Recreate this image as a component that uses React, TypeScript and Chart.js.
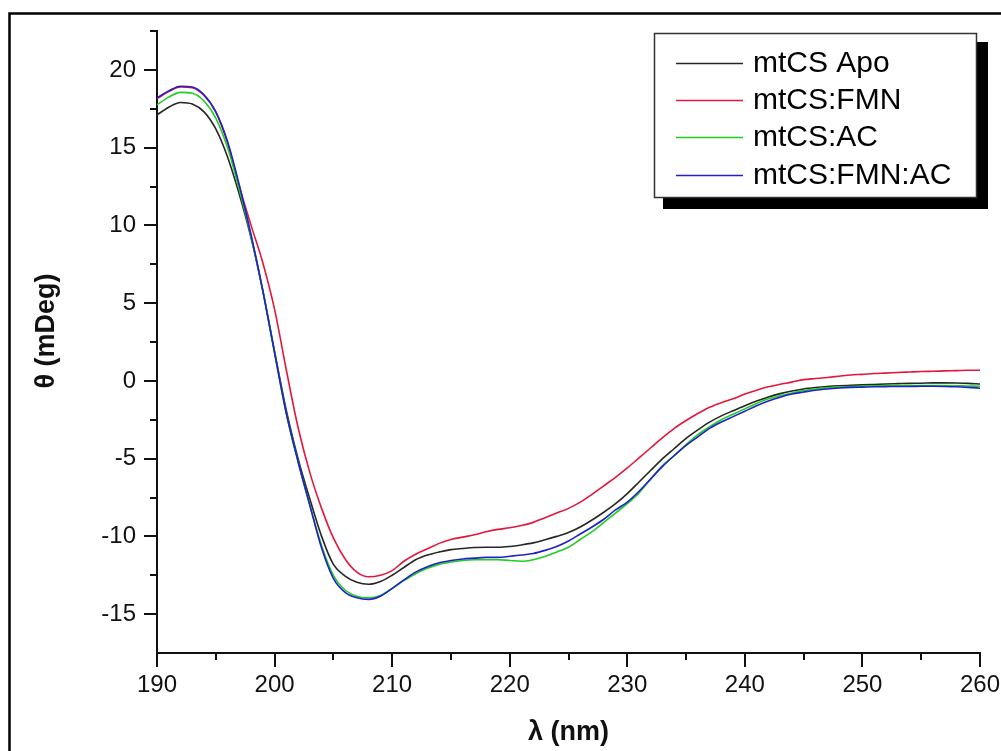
import React, { useEffect, useRef } from "react";
import { Chart, registerables } from "chart.js";

Chart.register(...registerables);

// ---------- data ----------
const wavelengths = [
  190, 191, 192, 193, 194, 195, 196, 197, 198, 199,
  200, 201, 202, 203, 204, 205, 206, 207, 208, 209,
  210, 211, 212, 213, 214, 215, 216, 217, 218, 219,
  220, 221, 222, 223, 224, 225, 226, 227, 228, 229,
  230, 231, 232, 233, 234, 235, 236, 237, 238, 239,
  240, 241, 242, 243, 244, 245, 246, 247, 248, 249,
  250, 251, 252, 253, 254, 255, 256, 257, 258, 259,
  260,
];

const apo = [
  17.1, 17.6, 17.9, 17.8, 17.3, 16.2, 14.4, 12.0, 9.2, 5.8,
  1.9, -1.9, -5.0, -7.6, -10.0, -11.8, -12.55, -12.95, -13.08, -12.9,
  -12.5, -12.0, -11.5, -11.2, -11.0, -10.85, -10.78, -10.72, -10.7, -10.7,
  -10.65, -10.55, -10.42, -10.22, -10.0, -9.75, -9.4, -8.95, -8.45, -7.9,
  -7.25, -6.5, -5.75, -5.0, -4.35, -3.7, -3.15, -2.65, -2.25, -1.92,
  -1.6, -1.3, -1.03, -0.82, -0.65, -0.52, -0.43, -0.36, -0.31, -0.28,
  -0.26, -0.23, -0.2, -0.18, -0.16, -0.15, -0.13, -0.13, -0.14, -0.16,
  -0.2,
];

const fmn = [
  18.15, 18.6, 18.9, 18.85, 18.35, 17.3, 15.3, 12.5, 10.0, 7.6,
  4.6, 0.7, -3.0, -5.9, -8.2, -10.1, -11.45, -12.3, -12.6, -12.5,
  -12.2, -11.6, -11.15, -10.8, -10.45, -10.2, -10.05, -9.9, -9.7, -9.55,
  -9.45, -9.3, -9.1, -8.8, -8.5, -8.2, -7.8, -7.3, -6.75, -6.2,
  -5.6, -4.95, -4.3, -3.65, -3.05, -2.55, -2.1, -1.7, -1.4, -1.15,
  -0.85, -0.6, -0.38, -0.22, -0.08, 0.08, 0.15, 0.22, 0.3, 0.38,
  0.42, 0.47, 0.5, 0.54, 0.57, 0.6, 0.62, 0.64, 0.66, 0.68,
  0.68,
];

const ac = [
  17.75, 18.25, 18.55, 18.5, 18.0, 16.9, 15.0, 12.3, 9.3, 5.8,
  1.8, -2.1, -5.2, -8.0, -10.6, -12.5, -13.45, -13.85, -13.95, -13.8,
  -13.35, -12.85, -12.4, -12.05, -11.8, -11.65, -11.55, -11.5, -11.5, -11.5,
  -11.55, -11.6, -11.5, -11.3, -11.0, -10.7, -10.2, -9.7, -9.1, -8.5,
  -7.9, -7.2, -6.3, -5.45, -4.8, -4.1, -3.45, -2.95, -2.5, -2.15,
  -1.8, -1.45, -1.15, -0.95, -0.78, -0.62, -0.52, -0.45, -0.4, -0.36,
  -0.34, -0.32, -0.31, -0.3, -0.3, -0.3, -0.3, -0.3, -0.31, -0.33,
  -0.35,
];

const fmnAc = [
  18.2, 18.65, 18.95, 18.9, 18.4, 17.3, 15.4, 12.6, 9.4, 5.8,
  1.8, -2.1, -5.2, -8.0, -10.75, -12.7, -13.6, -13.95, -14.05, -13.85,
  -13.35, -12.8, -12.3, -11.95, -11.7, -11.55, -11.45, -11.4, -11.35, -11.35,
  -11.28, -11.2, -11.1, -10.9, -10.65, -10.3, -9.85, -9.4, -8.9, -8.3,
  -7.8, -7.1, -6.3, -5.5, -4.8, -4.15, -3.6, -3.05, -2.65, -2.3,
  -1.95, -1.6, -1.3, -1.05, -0.85, -0.72, -0.6, -0.52, -0.46, -0.42,
  -0.4, -0.38, -0.37, -0.36, -0.36, -0.35, -0.35, -0.36, -0.38, -0.42,
  -0.47,
];

const seriesLabels = ["mtCS Apo", "mtCS:FMN", "mtCS:AC", "mtCS:FMN:AC"];
const seriesColors = ["#262626", "#e3173d", "#1fcf1f", "#2020cc"];

const xLabelTicks = [190, 200, 210, 220, 230, 240, 250, 260];
const xAllTicks = [190, 195, 200, 205, 210, 215, 220, 225, 230, 235, 240, 245, 250, 255, 260];
const yLabelTicks = [-15, -10, -5, 0, 5, 10, 15, 20];
const yAllTicks = [-15, -12.5, -10, -7.5, -5, -2.5, 0, 2.5, 5, 7.5, 10, 12.5, 15, 17.5, 20, 22.5];

const xTitle = "λ (nm)";
const yTitle = "θ (mDeg)";

const X_MIN = 190;
const X_MAX = 260;
const Y_MIN = -17.5;
const Y_MAX = 22.5;

const FONT = '"Liberation Sans", Arial, Helvetica, sans-serif';

const decorPlugin = {
  id: "decor",
  afterDraw(chart: any) {
    const ctx = chart.ctx as CanvasRenderingContext2D;
    const xs = chart.scales.x;
    const ys = chart.scales.y;
    const area = chart.chartArea;
    ctx.save();

    // outer frame (left and top edges visible)
    ctx.strokeStyle = "#000";
    ctx.lineWidth = 2.5;
    ctx.beginPath();
    ctx.moveTo(9.5, 800);
    ctx.lineTo(9.5, 13.5);
    ctx.lineTo(1100, 13.5);
    ctx.stroke();

    // tick marks
    ctx.strokeStyle = "#111";
    ctx.lineWidth = 2;
    ctx.beginPath();
    for (const v of xAllTicks) {
      const px = Math.round(xs.getPixelForValue(v));
      const len = v % 10 === 0 ? 14 : 7;
      ctx.moveTo(px, area.bottom);
      ctx.lineTo(px, area.bottom + len);
    }
    for (const v of yAllTicks) {
      const py = Math.round(ys.getPixelForValue(v));
      const len = v % 5 === 0 ? 13 : 7;
      ctx.moveTo(area.left, py);
      ctx.lineTo(area.left - len, py);
    }
    ctx.stroke();

    // axis titles
    ctx.fillStyle = "#111";
    ctx.font = `bold 27px ${FONT}`;
    ctx.textAlign = "center";
    ctx.textBaseline = "middle";
    ctx.fillText(xTitle, (area.left + area.right) / 2, 733);
    ctx.save();
    ctx.translate(47, 331);
    ctx.rotate(-Math.PI / 2);
    ctx.fillText(yTitle, 0, 0);
    ctx.restore();

    // legend with drop shadow
    ctx.fillStyle = "#000";
    ctx.fillRect(663, 42, 325, 167);
    ctx.fillStyle = "#fff";
    ctx.fillRect(654, 33, 323, 165);
    ctx.strokeStyle = "#333";
    ctx.lineWidth = 1.5;
    ctx.strokeRect(654.5, 33.5, 322, 164);

    const rows = [63, 100, 137, 175];
    ctx.font = `30px ${FONT}`;
    ctx.textAlign = "left";
    ctx.textBaseline = "middle";
    rows.forEach((ry, i) => {
      ctx.strokeStyle = seriesColors[i];
      ctx.lineWidth = 1.5;
      ctx.beginPath();
      ctx.moveTo(676, ry + 0.5);
      ctx.lineTo(743, ry + 0.5);
      ctx.stroke();
      ctx.fillStyle = "#000";
      ctx.fillText(seriesLabels[i], 753, ry + 1);
    });

    ctx.restore();
  },
};

export default function App() {
  const canvasRef = useRef<HTMLCanvasElement | null>(null);

  useEffect(() => {
    const canvas = canvasRef.current;
    if (!canvas) return;
    const series = [apo, fmn, ac, fmnAc];
    const drawOrder = [2, 3, 1, 0];
    const chart = new Chart(canvas, {
      type: "line",
      data: {
        datasets: series.map((vals, i) => ({
          label: seriesLabels[i],
          data: wavelengths.map((w, j) => ({ x: w, y: vals[j] })),
          borderColor: seriesColors[i],
          backgroundColor: seriesColors[i],
          borderWidth: 1.6,
          pointRadius: 0,
          cubicInterpolationMode: "monotone" as const,
          fill: false,
          order: drawOrder[i],
        })),
      },
      options: {
        responsive: false,
        animation: false,
        events: [],
        layout: { padding: { top: 31, right: 0, left: 0, bottom: 0 } },
        plugins: {
          legend: { display: false },
          tooltip: { enabled: false },
          title: { display: false },
        },
        scales: {
          x: {
            type: "linear",
            min: X_MIN,
            max: X_MAX,
            grid: { display: false, drawTicks: false },
            border: { display: true, color: "#111", width: 2 },
            afterBuildTicks: (scale: any) => {
              scale.ticks = xLabelTicks.map((v) => ({ value: v }));
            },
            afterFit: (scale: any) => {
              scale.height = 98;
              scale.paddingRight = 21;
              scale.paddingLeft = 0;
            },
            ticks: {
              autoSkip: false,
              maxRotation: 0,
              padding: 18,
              color: "#111",
              font: { family: FONT, size: 24 },
              callback: (v: any) => String(v),
            },
          },
          y: {
            type: "linear",
            min: Y_MIN,
            max: Y_MAX,
            grid: { display: false, drawTicks: false },
            border: { display: true, color: "#111", width: 2 },
            afterBuildTicks: (scale: any) => {
              scale.ticks = yLabelTicks.map((v) => ({ value: v }));
            },
            afterFit: (scale: any) => {
              scale.width = 157;
              scale.paddingTop = 0;
              scale.paddingBottom = 0;
            },
            ticks: {
              autoSkip: false,
              padding: 21,
              color: "#111",
              font: { family: FONT, size: 24 },
              callback: (v: any) => String(v),
            },
          },
        },
      },
      plugins: [decorPlugin],
    });
    return () => {
      chart.destroy();
    };
  }, []);

  return (
    <div style={{ position: "fixed", left: 0, top: 0, width: 1001, height: 751, background: "#fff" }}>
      <canvas ref={canvasRef} width={1001} height={751} style={{ display: "block" }} />
    </div>
  );
}
